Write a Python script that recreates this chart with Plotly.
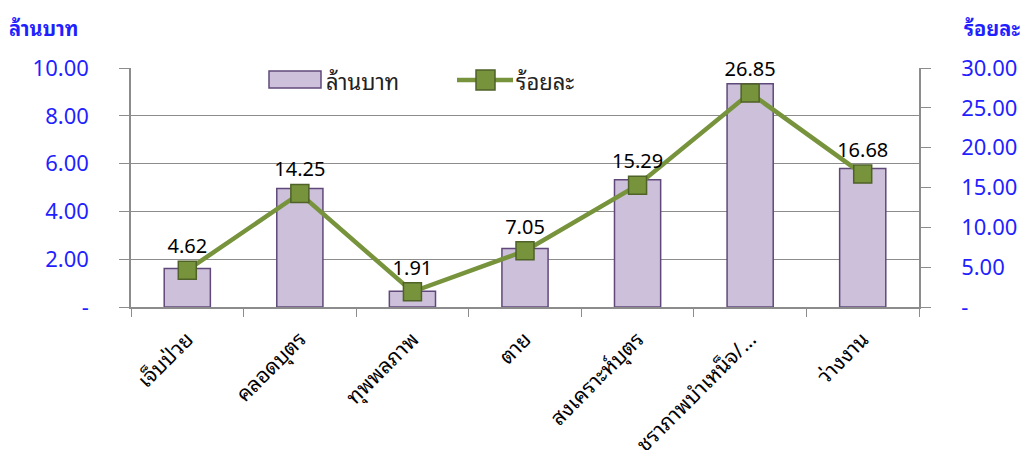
import plotly.graph_objects as go

# Benefit categories
categories = ["เจ็บป่วย", "คลอดบุตร", "ทุพพลภาพ", "ตาย", "สงเคราะห์บุตร",
              "ชราภาพบำเหน็จ/…", "ว่างงาน"]
# Amount (million baht) and share (percent)
million_baht = [1.61, 4.96, 0.66, 2.45, 5.32, 9.34, 5.80]
percent = [4.62, 14.25, 1.91, 7.05, 15.29, 26.85, 16.68]

left_ticks = [0, 2, 4, 6, 8, 10]
left_tick_text = ["-", "2.00", "4.00", "6.00", "8.00", "10.00"]
right_ticks = [0, 5, 10, 15, 20, 25, 30]
right_tick_text = ["-", "5.00", "10.00", "15.00", "20.00", "25.00", "30.00"]

FONT = "Tahoma, 'Noto Sans Thai Looped', 'Noto Sans Thai', 'Noto Sans', sans-serif"
THAI = "Tahoma, 'Noto Sans Thai Looped', 'Noto Sans Thai', 'Noto Sans', sans-serif"
BLUE = "#1f1fff"
AXIS = "#8c8c8c"
BAR_FILL, BAR_EDGE = "#ccc0da", "#60497a"
LINE, MARK_EDGE = "#77933c", "#4f6228"

W, H = 1026, 450
ML, MR, MT, MB = 131, 107, 68, 143
PW, PH = W - ML - MR, H - MT - MB


def px_x(p):
    return (p - ML) / PW


def px_y(p):
    return (H - MB - p) / PH


fig = go.Figure()
fig.add_trace(go.Bar(
    x=categories, y=million_baht, name="ล้านบาท",
    marker=dict(color=BAR_FILL, line=dict(color=BAR_EDGE, width=1.5)),
    width=0.41, yaxis="y", showlegend=False,
))
fig.add_trace(go.Scatter(
    x=categories, y=percent, name="ร้อยละ", yaxis="y2",
    mode="lines+markers+text", cliponaxis=False, showlegend=False,
    line=dict(color=LINE, width=4.5),
    marker=dict(symbol="square", size=18, color=LINE,
                line=dict(color=MARK_EDGE, width=1.5)),
    text=[f"{v:.2f}" for v in percent], textposition="top center",
    textfont=dict(family=FONT, size=20, color="#000000"),
))

# Legend drawn inside the top of the plot area
shapes = [
    dict(type="rect", xref="paper", yref="paper",
         x0=px_x(269), x1=px_x(321), y0=px_y(88), y1=px_y(71),
         fillcolor=BAR_FILL, line=dict(color=BAR_EDGE, width=1.5)),
    dict(type="line", xref="paper", yref="paper",
         x0=px_x(457), x1=px_x(513), y0=px_y(80), y1=px_y(80),
         line=dict(color=LINE, width=4.5)),
    dict(type="rect", xref="paper", yref="paper",
         x0=px_x(476), x1=px_x(495), y0=px_y(90), y1=px_y(70),
         fillcolor=LINE, line=dict(color=MARK_EDGE, width=1.5)),
]

annotations = [
    dict(text="ล้านบาท", xref="paper", yref="paper",
         x=px_x(324), y=px_y(80), xanchor="left", yanchor="middle", showarrow=False,
         font=dict(family=THAI, size=22, color="#222222")),
    dict(text="ร้อยละ", xref="paper", yref="paper",
         x=px_x(514), y=px_y(80), xanchor="left", yanchor="middle", showarrow=False,
         font=dict(family=THAI, size=22, color="#222222")),
    dict(text="<b>ล้านบาท</b>", xref="paper", yref="paper",
         x=px_x(7), y=px_y(27), xanchor="left", yanchor="middle", showarrow=False,
         font=dict(family=THAI, size=20, color=BLUE)),
    dict(text="<b>ร้อยละ</b>", xref="paper", yref="paper",
         x=px_x(962), y=px_y(27), xanchor="left", yanchor="middle", showarrow=False,
         font=dict(family=THAI, size=20, color=BLUE)),
]

fig.update_layout(
    width=W, height=H,
    margin=dict(l=ML, r=MR, t=MT, b=MB, autoexpand=False),
    paper_bgcolor="white", plot_bgcolor="white",
    font=dict(family=FONT, size=19, color="#000000"),
    showlegend=False,
    shapes=shapes,
    annotations=annotations,
    xaxis=dict(
        type="category", tickangle=-45, tickson="boundaries",
        ticks="outside", ticklen=8, tickcolor=AXIS,
        showline=True, linecolor=AXIS, linewidth=1.5,
        tickfont=dict(family=THAI, size=21, color="#000000"),
        ticklabelstandoff=10, automargin=False,
    ),
    yaxis=dict(
        range=[0, 10], tickvals=left_ticks, ticktext=left_tick_text,
        showgrid=True, gridcolor=AXIS, gridwidth=1.2,
        ticks="outside", ticklen=10, tickcolor=AXIS,
        showline=True, linecolor=AXIS, linewidth=1.5,
        tickfont=dict(family=FONT, size=22, color=BLUE),
        ticklabelstandoff=26, zeroline=False, automargin=False,
    ),
    yaxis2=dict(
        range=[0, 30], tickvals=right_ticks, ticktext=right_tick_text,
        overlaying="y", side="right", showgrid=False,
        ticks="outside", ticklen=10, tickcolor=AXIS,
        showline=True, linecolor=AXIS, linewidth=1.5,
        tickfont=dict(family=FONT, size=22, color=BLUE),
        ticklabelstandoff=26, zeroline=False, automargin=False,
    ),
)

fig.write_html("out.html")
